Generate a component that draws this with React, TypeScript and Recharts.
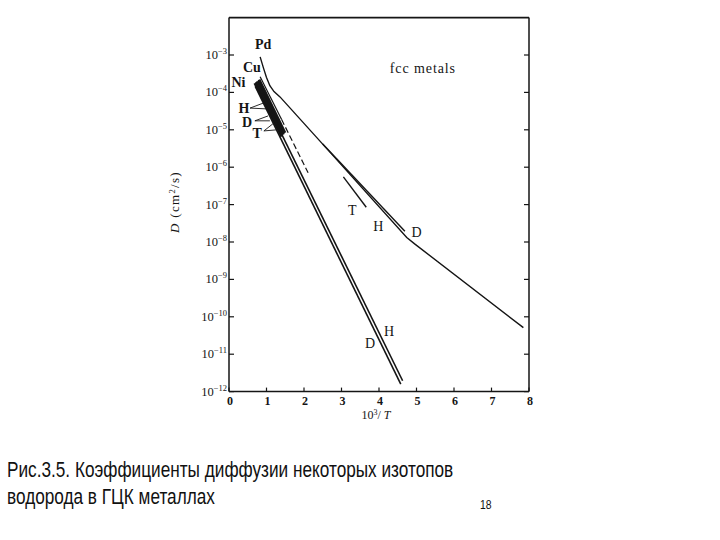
import {
  ComposedChart,
  Line,
  Scatter,
  XAxis,
  YAxis,
} from "recharts";

// x = 10^3/T, y = log10 D (cm^2/s)
const xTicks = [0, 1, 2, 3, 4, 5, 6, 7, 8];
const topTicks = [1, 2, 3, 4, 5, 6, 7];
const yTicks = [-12, -11, -10, -9, -8, -7, -6, -5, -4, -3];

const pdH = [
  { x: 0.83, y: -3.05 },
  { x: 0.92, y: -3.35 },
  { x: 1.0, y: -3.6 },
  { x: 1.09, y: -3.82 },
  { x: 1.2, y: -3.98 },
  { x: 1.36, y: -4.12 },
  { x: 2.74, y: -5.65 },
  { x: 4.74, y: -7.88 },
  { x: 4.95, y: -8.05 },
  { x: 7.85, y: -10.29 },
];
const pdD = [
  { x: 2.5, y: -5.38 },
  { x: 4.69, y: -7.71 },
];
const pdT = [
  { x: 3.05, y: -6.26 },
  { x: 3.66, y: -7.07 },
];
const cuSolid = [
  { x: 0.83, y: -3.58 },
  { x: 1.4, y: -4.72 },
];
const cuDashed = [
  { x: 1.4, y: -4.72 },
  { x: 2.11, y: -6.15 },
];
const niH = [
  { x: 0.72, y: -3.72 },
  { x: 4.63, y: -11.71 },
];
const niD = [
  { x: 0.7, y: -3.84 },
  { x: 4.58, y: -11.8 },
];
const bundleA = [
  { x: 0.69, y: -3.75 },
  { x: 1.41, y: -5.18 },
];
const bundleB = [
  { x: 0.76, y: -3.7 },
  { x: 1.45, y: -5.13 },
];
const bundleC = [
  { x: 0.8, y: -3.66 },
  { x: 1.49, y: -5.08 },
];

// short leader strokes from the H / D / T labels to the Ni/Cu bundle
const leaders = [
  [{ x: 0.56, y: -4.42 }, { x: 0.93, y: -4.28 }],
  [{ x: 0.56, y: -4.42 }, { x: 0.99, y: -4.44 }],
  [{ x: 0.69, y: -4.76 }, { x: 1.04, y: -4.63 }],
  [{ x: 0.69, y: -4.76 }, { x: 1.09, y: -4.76 }],
  [{ x: 0.93, y: -5.03 }, { x: 1.17, y: -4.84 }],
  [{ x: 0.93, y: -5.03 }, { x: 1.28, y: -5.0 }],
];

const labels = [
  { x: 0.91, y: -2.71, text: "Pd", bold: true },
  { x: 0.61, y: -3.31, text: "Cu", bold: true },
  { x: 0.25, y: -3.71, text: "Ni", bold: true },
  { x: 0.4, y: -4.41, text: "H", bold: true },
  { x: 0.48, y: -4.79, text: "D", bold: true },
  { x: 0.75, y: -5.08, text: "T", bold: true },
  { x: 5.17, y: -3.35, text: "fcc  metals", bold: false },
  { x: 3.29, y: -7.13, text: "T", bold: false },
  { x: 3.98, y: -7.58, text: "H", bold: false },
  { x: 5.0, y: -7.72, text: "D", bold: false },
  { x: 4.27, y: -10.38, text: "H", bold: false },
  { x: 3.76, y: -10.69, text: "D", bold: false },
];

const INK = "#151515";
const SERIF = "'Liberation Serif', 'DejaVu Serif', serif";
const SANS = "'Liberation Sans', Arial, sans-serif";

const LeftTick = (props: any) => {
  const { x, y, payload } = props;
  return (
    <g>
      <line x1={x} x2={x + 5} y1={y} y2={y} stroke={INK} strokeWidth={1.2} />
      <text
        x={x - 2}
        y={y + 4}
        textAnchor="end"
        fontFamily={SERIF}
        fontSize={12.5}
        fill={INK}
      >
        10
        <tspan dy={-5} fontSize={8.5}>
          {"−" + Math.abs(payload.value)}
        </tspan>
      </text>
    </g>
  );
};

const RightTick = (props: any) => {
  const { x, y } = props;
  return <line x1={x} x2={x - 5} y1={y} y2={y} stroke={INK} strokeWidth={1.2} />;
};

const TopTick = (props: any) => {
  const { x, y } = props;
  return <line x1={x} x2={x} y1={y} y2={y + 5} stroke={INK} strokeWidth={1.2} />;
};

const BottomTick = (props: any) => {
  const { x, y, payload } = props;
  return (
    <g>
      <line x1={x} x2={x} y1={y} y2={y - 4} stroke={INK} strokeWidth={1.2} />
      <text
        x={x + 1}
        y={y + 13}
        textAnchor="middle"
        fontFamily={SERIF}
        fontWeight="bold"
        fontSize={12}
        fill={INK}
      >
        {payload.value}
      </text>
    </g>
  );
};

const XLabel = (props: any) => {
  const vb = props.viewBox;
  return (
    <text
      x={vb.x + vb.width * 0.49}
      y={vb.y + 27}
      textAnchor="middle"
      fontFamily={SERIF}
      fontSize={12}
      fill={INK}
    >
      10
      <tspan dy={-4} fontSize={8}>
        3
      </tspan>
      <tspan dy={4}>/ </tspan>
      <tspan fontStyle="italic">T</tspan>
    </text>
  );
};

const YLabel = (props: any) => {
  const vb = props.viewBox;
  const cx = vb.x - 5;
  const cy = vb.y + vb.height * 0.493;
  return (
    <text
      x={cx}
      y={cy}
      dy="0.35em"
      transform={`rotate(-90 ${cx} ${cy})`}
      textAnchor="middle"
      fontFamily={SERIF}
      fontSize={13}
      letterSpacing={1.3}
      fill={INK}
    >
      <tspan fontStyle="italic">D</tspan>
      {"  (cm"}
      <tspan dy={-4} fontSize={8.5}>
        2
      </tspan>
      <tspan dy={4}>/s)</tspan>
    </text>
  );
};

const LabelShape = (props: any) => {
  const { cx, cy, payload } = props;
  return (
    <text
      x={cx}
      y={cy}
      dy="0.36em"
      textAnchor="middle"
      fontFamily={SERIF}
      fontWeight={payload.bold ? "bold" : "normal"}
      fontSize={14}
      letterSpacing={payload.text.length > 3 ? 0.9 : 0}
      fill={INK}
    >
      {payload.text}
    </text>
  );
};

function curve(key: string, data: { x: number; y: number }[], width = 1.4, dash?: string) {
  return (
    <Line
      key={key}
      data={data}
      dataKey="y"
      type="linear"
      stroke={INK}
      strokeWidth={width}
      strokeDasharray={dash}
      dot={false}
      activeDot={false}
      isAnimationActive={false}
    />
  );
}

export default function App() {
  return (
    <div
      style={{
        position: "absolute",
        left: 0,
        top: 0,
        width: 720,
        height: 540,
        background: "#fff",
      }}
    >
      <ComposedChart
        width={720}
        height={430}
        margin={{ top: 15.6, right: 189, bottom: 8.4, left: 179 }}
      >
        <XAxis
          dataKey="x"
          type="number"
          domain={[0, 8]}
          ticks={xTicks}
          allowDataOverflow
          height={30}
          tickSize={0}
          tickMargin={0}
          tickLine={false}
          axisLine={{ stroke: INK, strokeWidth: 1.5 }}
          tick={BottomTick}
          label={XLabel}
        />
        <XAxis
          xAxisId="top"
          orientation="top"
          type="number"
          domain={[0, 8]}
          ticks={topTicks}
          allowDataOverflow
          height={2}
          tickSize={0}
          tickMargin={0}
          tickLine={false}
          axisLine={{ stroke: INK, strokeWidth: 1.8 }}
          tick={TopTick}
        />
        <YAxis
          dataKey="y"
          type="number"
          domain={[-12, -2]}
          ticks={yTicks}
          allowDataOverflow
          width={50}
          tickSize={0}
          tickMargin={0}
          tickLine={false}
          axisLine={{ stroke: INK, strokeWidth: 1.5 }}
          tick={LeftTick}
          label={YLabel}
        />
        <YAxis
          yAxisId="right"
          orientation="right"
          type="number"
          domain={[-12, -2]}
          ticks={yTicks}
          allowDataOverflow
          width={2}
          tickSize={0}
          tickMargin={0}
          tickLine={false}
          axisLine={{ stroke: INK, strokeWidth: 1.5 }}
          tick={RightTick}
        />
        {curve("pdH", pdH)}
        {curve("pdD", pdD)}
        {curve("pdT", pdT)}
        {curve("cuSolid", cuSolid, 1.2)}
        {curve("cuDashed", cuDashed, 1.2, "6 3")}
        {curve("bundleA", bundleA, 3)}
        {curve("bundleB", bundleB, 3)}
        {curve("bundleC", bundleC, 3)}
        {curve("niH", niH, 1.6)}
        {curve("niD", niD, 1.6)}
        {leaders.map((seg, i) => curve("leader" + i, seg, 0.9))}
        <Scatter
          data={labels}
          dataKey="y"
          shape={LabelShape}
          isAnimationActive={false}
        />
      </ComposedChart>
      <div
        style={{
          position: "absolute",
          left: 7,
          top: 457,
          fontFamily: SANS,
          fontSize: 21.5,
          lineHeight: "27px",
          color: "#111",
          whiteSpace: "nowrap",
          transform: "scaleX(0.8)",
          transformOrigin: "0 0",
        }}
      >
        Рис.3.5. Коэффициенты диффузии некоторых изотопов
        <br />
        водорода в ГЦК металлах
      </div>
      <div
        style={{
          position: "absolute",
          left: 480,
          top: 498,
          fontFamily: SANS,
          fontSize: 13,
          lineHeight: "13px",
          color: "#111",
          transform: "scaleX(0.8)",
          transformOrigin: "0 0",
        }}
      >
        18
      </div>
    </div>
  );
}
